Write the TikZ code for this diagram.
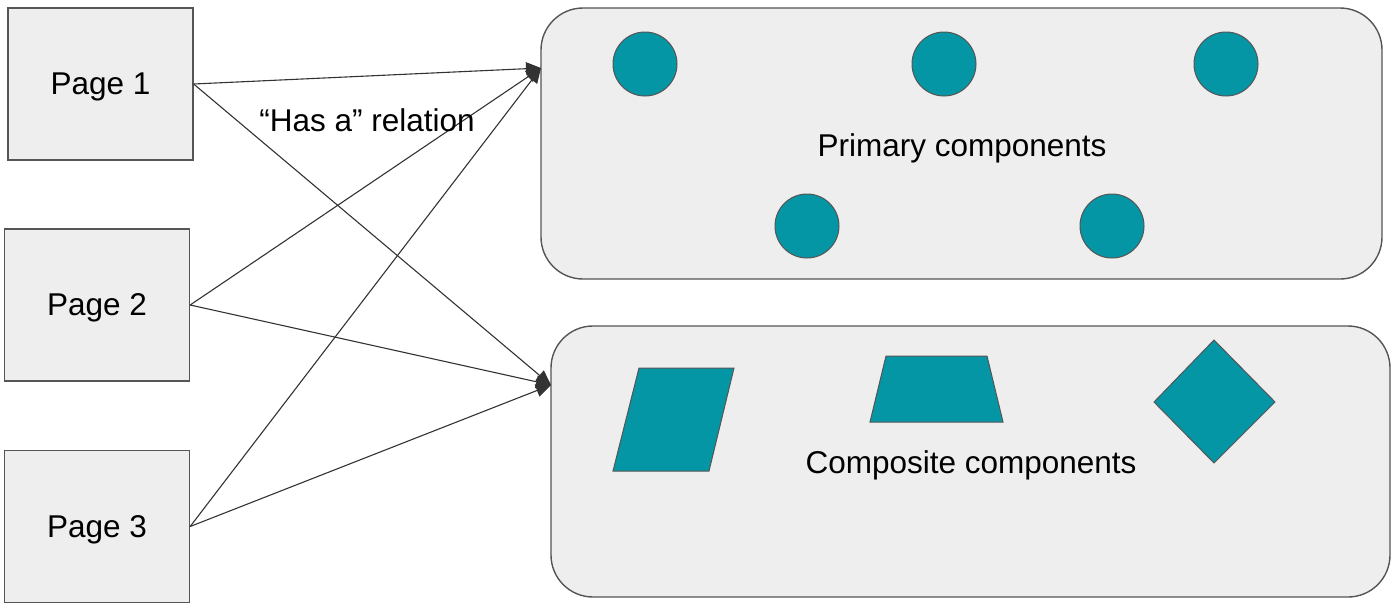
\documentclass[tikz,border=0pt]{standalone}
\usepackage{fontspec}
\setmainfont{Liberation Sans}
\usetikzlibrary{arrows.meta}
\definecolor{boxfill}{HTML}{EEEEEE}
\definecolor{boxline}{HTML}{555555}
\definecolor{teal}{HTML}{0596A6}
\definecolor{arr}{HTML}{333333}
\begin{document}
\begin{tikzpicture}[x=1pt,y=-1pt,
  lbl/.style={font=\fontsize{31.5}{38}\selectfont, text=black},
  page/.style={draw=boxline, fill=boxfill, line width=1.3pt, minimum width=185pt, minimum height=152pt, inner sep=0pt, lbl},
  group/.style={draw=boxline, fill=boxfill, line width=1.4pt, rounded corners=42pt},
  dot/.style={circle, draw=boxline, fill=teal, line width=1pt, minimum size=64pt, inner sep=0pt},
  shp/.style={draw=boxline, fill=teal, line width=1pt},
  link/.style={draw=arr, line width=1.1pt, -{Triangle[length=15pt,width=13pt]}}
]
\useasboundingbox (0,0) rectangle (1400,611);
% group boxes
\draw[group] (541,8) rectangle (1382,279);
\draw[group] (551,326) rectangle (1390,597);
% pages
\node[page] (p1) at (100.5,84) {};
\node[page] (p2) at (97,305) {};
\node[page] (p3) at (97,526.5) {};
\node[lbl] (t1) at (100.5,87) {Page 1};
\node[lbl] (t2) at (97,308) {Page 2};
\node[lbl] (t3) at (97,529.5) {Page 3};
% primary
\node[dot] (c1) at (645,64) {};
\node[dot] (c2) at (944,64) {};
\node[dot] (c3) at (1226,64) {};
\node[dot] (c4) at (807,226) {};
\node[dot] (c5) at (1112,226) {};
\node[lbl] (prim) at (962,148) {Primary components};
% composite
\draw[shp] (639,368) -- (734,368) -- (709,471) -- (613,471) -- cycle;
\draw[shp] (886,356) -- (987,356) -- (1003,422) -- (870,422) -- cycle;
\draw[shp] (1214,340) -- (1275,402) -- (1214,463) -- (1154,402) -- cycle;
\node[lbl] (comp) at (971,465) {Composite components};
% targets
\coordinate (tp) at (541,68);
\coordinate (tc) at (551,385);
\draw[link] (p1.east) -- (tp);
\draw[link] (p1.east) -- (tc);
\draw[link] (p2.east) -- (tp);
\draw[link] (p2.east) -- (tc);
\draw[link] (p3.east) -- (tp);
\draw[link] (p3.east) -- (tc);
\node[lbl] (has) at (367,120) {“Has a” relation};
\end{tikzpicture}
\end{document}
